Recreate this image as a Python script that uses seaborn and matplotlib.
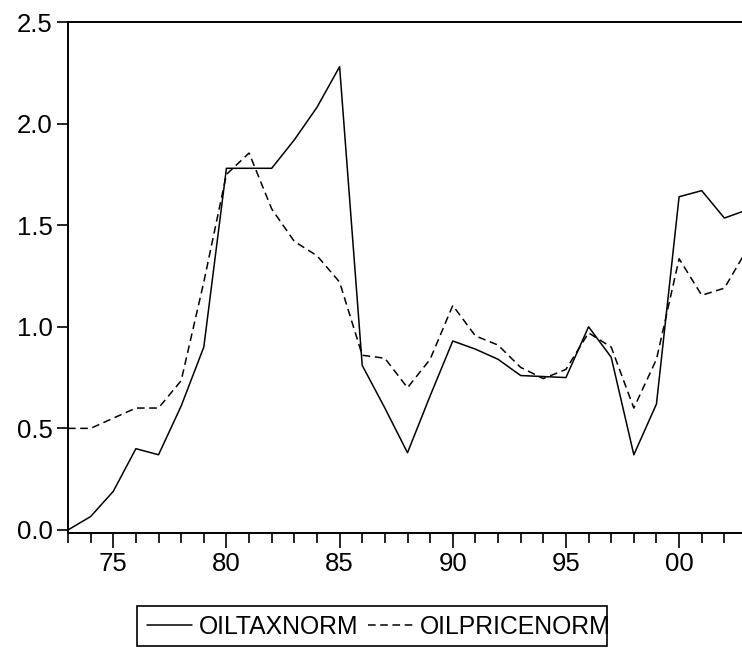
import numpy as np
import pandas as pd
import matplotlib
matplotlib.use("Agg")
import matplotlib.pyplot as plt
import matplotlib.patches as mpatches
import seaborn as sns

years = list(range(1973, 2004))
oiltaxnorm = [0.00, 0.066, 0.19, 0.40, 0.37, 0.61, 0.90, 1.78, 1.78, 1.78,
              1.92, 2.08, 2.28, 0.81, 0.60, 0.38, 0.66, 0.93, 0.89, 0.84,
              0.76, 0.755, 0.75, 1.00, 0.85, 0.37, 0.62, 1.64, 1.67, 1.535,
              1.575]
oilpricenorm = [0.50, 0.50, 0.55, 0.60, 0.60, 0.735, 1.22, 1.75, 1.855, 1.58,
                1.42, 1.35, 1.22, 0.86, 0.845, 0.70, 0.84, 1.105, 0.955, 0.91,
                0.80, 0.745, 0.79, 0.97, 0.90, 0.60, 0.84, 1.335, 1.155, 1.19,
                1.38]
series_names = ["OILTAXNORM", "OILPRICENORM"]
xtick_years = [1975, 1980, 1985, 1990, 1995, 2000]
xtick_labels = ["75", "80", "85", "90", "95", "00"]
ytick_values = [0.0, 0.5, 1.0, 1.5, 2.0, 2.5]

df = pd.DataFrame({
    "year": years * 2,
    "value": oiltaxnorm + oilpricenorm,
    "series": [series_names[0]] * len(years) + [series_names[1]] * len(years),
})

sns.set_theme(style="white")
plt.rcParams["font.family"] = ["Liberation Sans", "DejaVu Sans"]

W, H = 742, 648
fig = plt.figure(figsize=(W / 100, H / 100), dpi=100)
ax = fig.add_axes([68 / W, 115 / H, (747 - 68) / W, (533 - 22) / H])

sns.lineplot(data=df, x="year", y="value", style="series",
             style_order=series_names,
             dashes={series_names[0]: "", series_names[1]: (5, 3)},
             color="black", linewidth=1.1, ax=ax, legend=True)

ax.set_xlim(1973, 2003)
ax.set_ylim(-0.015, 2.5)
ax.set_xticks(xtick_years)
ax.set_xticklabels(xtick_labels)
ax.set_xticks(years, minor=True)
ax.set_yticks(ytick_values)
ax.set_yticklabels([f"{v:.1f}" for v in ytick_values])
ax.tick_params(axis="both", which="both", direction="out",
               width=1.2, color="black", labelsize=18.5, labelcolor="black",
               bottom=True, left=True)
ax.tick_params(axis="x", which="major", length=11, pad=3)
ax.tick_params(axis="x", which="minor", length=7)
ax.tick_params(axis="y", which="major", length=8, pad=3)
ax.set_xlabel("")
ax.set_ylabel("")
for s in ["left", "bottom", "top"]:
    ax.spines[s].set_visible(True)
    ax.spines[s].set_color("black")
    ax.spines[s].set_linewidth(1.4)
ax.spines["right"].set_visible(False)

handles, labels = ax.get_legend_handles_labels()
ax.get_legend().remove()
leg = fig.legend(handles, labels, loc="center left",
                 bbox_to_anchor=(147 / W, 1 - 627 / H), ncol=2,
                 frameon=False, fontsize=17.8, handlelength=1.8,
                 handletextpad=0.3, columnspacing=0.4, borderpad=0,
                 borderaxespad=0)
for t in leg.get_texts():
    t.set_color("black")

# legend frame (narrower than the text, as in the reference)
fig.patches.append(mpatches.Rectangle((137 / W, 1 - 646 / H), (607 - 137) / W,
                                      (646 - 606) / H, transform=fig.transFigure,
                                      fill=False, edgecolor="black",
                                      linewidth=1.2, zorder=5))

fig.savefig("out.png", dpi=100)
